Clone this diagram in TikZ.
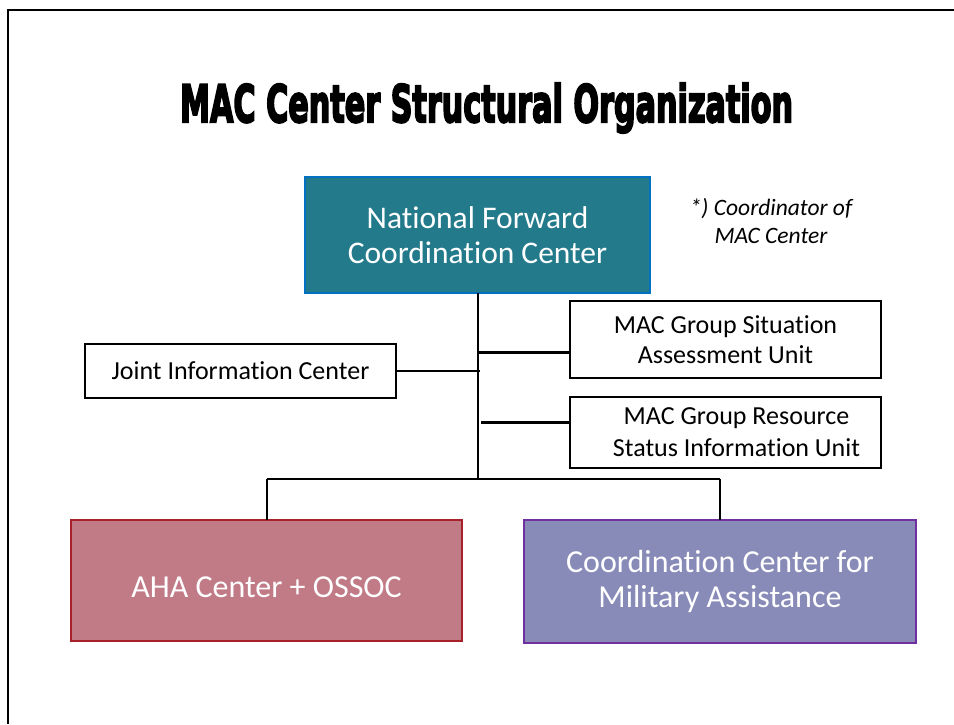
\documentclass[tikz,border=0pt]{standalone}
\usepackage{fontspec}
\usepackage{graphicx}
\setmainfont{Carlito}[Ligatures=NoCommon]
\newfontfamily\titlefont{DejaVu Sans}[BoldFeatures={FakeBold=4.5}]
\definecolor{tealfill}{RGB}{35,122,139}
\definecolor{tealborder}{RGB}{0,112,192}
\definecolor{ahafill}{RGB}{192,123,135}
\definecolor{ahaborder}{RGB}{168,32,42}
\definecolor{ccmafill}{RGB}{136,139,184}
\definecolor{ccmaborder}{RGB}{112,48,160}
\tikzset{
  unitbox/.style={draw=black, line width=2.3pt, fill=white, inner sep=0pt, outer sep=0pt, align=center, text=black},
  colorbox/.style={line width=1.8pt, inner sep=0pt, outer sep=0pt, align=center, text=white},
  link/.style={draw=black, line width=2.2pt},
  sidelink/.style={draw=black, line width=3pt},
}
\begin{document}
\begin{tikzpicture}[x=1pt,y=-1pt]
\useasboundingbox (0,0) rectangle (954,724);
\fill[white] (0,0) rectangle (954,724);
% slide frame
\draw[line width=2.5pt] (8,724) -- (8,10) -- (954,10);
% title
\node[anchor=base, inner sep=0pt] (title) at (486.5,122)
  {\resizebox{613pt}{39pt}{\titlefont\bfseries MAC Center Structural Organization}};
% boxes
\node[colorbox, fill=tealfill, draw=tealborder, line width=1.5pt,
      minimum width=345pt, minimum height=116pt,
      font={\fontsize{31.5}{35}\selectfont}] (nfcc) at (477.5,235)
  {National Forward\\Coordination Center};
\node[align=center, inner sep=0pt, font={\fontsize{23.5}{28}\selectfont\itshape}] (note) at (771,221)
  {*) Coordinator of\\MAC Center};
\node[unitbox, minimum width=311pt, minimum height=77pt,
      font={\fontsize{26}{30}\selectfont}] (sit) at (725.5,339.5)
  {MAC Group Situation\\Assessment Unit};
\node[unitbox, minimum width=311pt, minimum height=54pt,
      font={\fontsize{26}{30}\selectfont}] (jic) at (240.5,371)
  {Joint Information Center};
\node[unitbox, minimum width=311pt, minimum height=71pt,
      font={\fontsize{26}{32}\selectfont}] (res) at (725.5,432.5)
  {\hspace*{22pt}MAC Group Resource\\\hspace*{22pt}Status Information Unit};
\node[colorbox, fill=ahafill, draw=ahaborder,
      minimum width=391pt, minimum height=121pt, text height=33pt, text depth=0pt,
      font={\fontsize{32}{35}\selectfont}] (aha) at (266.5,580.5)
  {AHA Center + OSSOC};
\node[colorbox, fill=ccmafill, draw=ccmaborder,
      minimum width=392pt, minimum height=123pt,
      font={\fontsize{32}{35}\selectfont}] (ccma) at (720,581.5)
  {Coordination Center for\\Military Assistance};
% connector points
\coordinate (bus) at (478,479);
\coordinate (busL) at (aha.north |- bus);
\coordinate (busR) at (ccma.north |- bus);
\coordinate (sitj) at (477,352);
\coordinate (jicj) at (480,371);
\coordinate (resj) at (481,422);
% connectors
\draw[link] (nfcc.south -| bus) -- (bus);
\draw[link, line width=2pt] (busL) -- (busR);
\draw[link, line width=2pt] (busL) -- (aha.north);
\draw[link, line width=2pt] (busR) -- (ccma.north);
\draw[sidelink] (sitj) -- (sitj -| sit.west);
\draw[sidelink, line width=2.5pt] (jic.east) -- (jicj);
\draw[sidelink] (resj) -- (resj -| res.west);
\end{tikzpicture}
\end{document}
